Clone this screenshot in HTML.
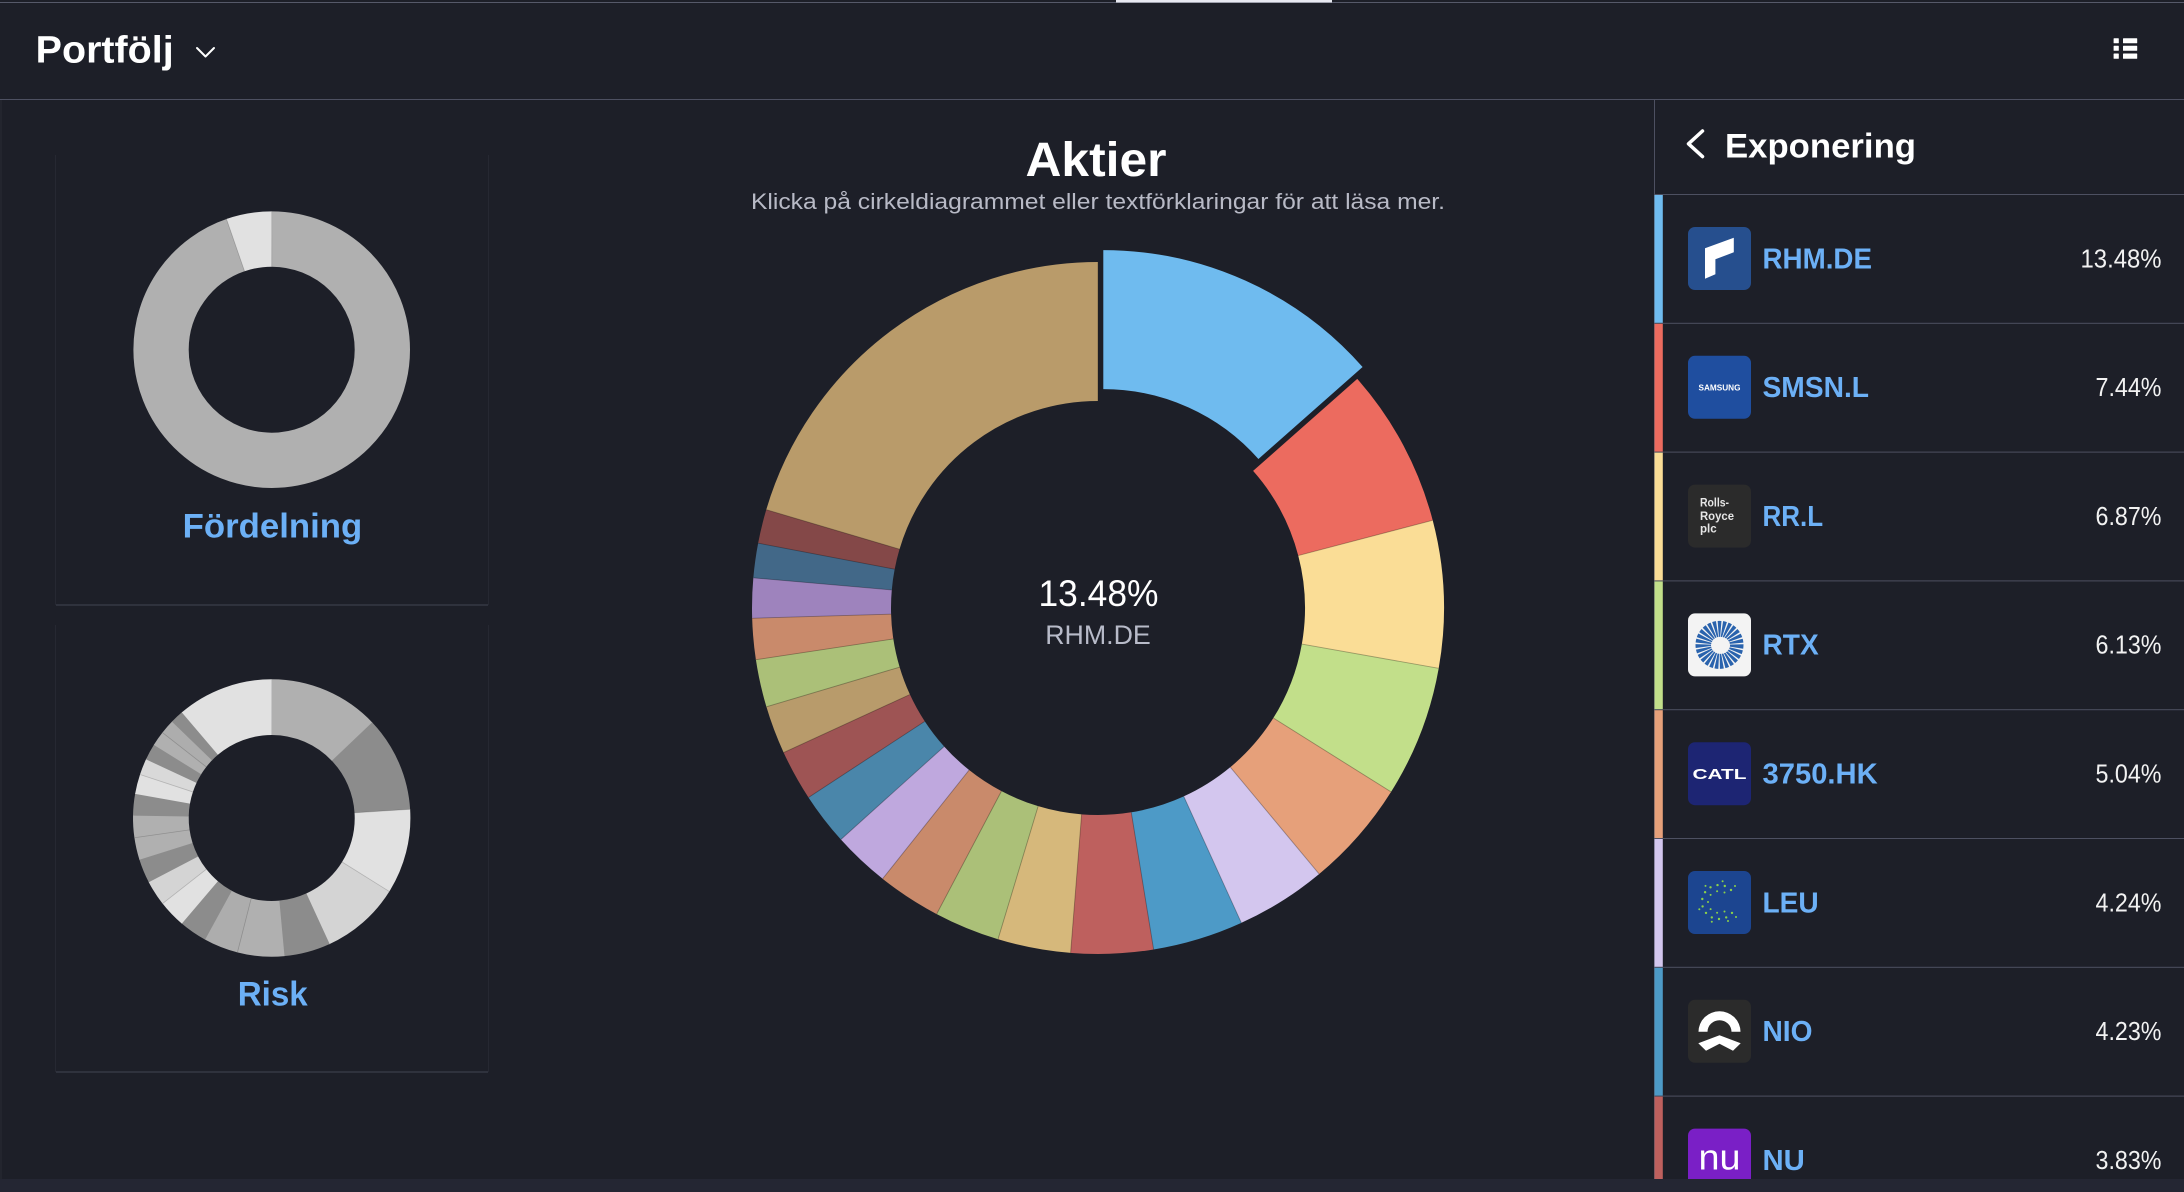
<!DOCTYPE html>
<html>
<head>
<meta charset="utf-8">
<style>
html,body{margin:0;padding:0;background:#1d1f28;overflow:hidden;}
svg{display:block;}
text{font-family:"Liberation Sans","DejaVu Sans",sans-serif;}
</style>
</head>
<body>
<svg width="2184" height="1192" viewBox="0 0 2184 1192" xmlns="http://www.w3.org/2000/svg">
<rect width="2184" height="1192" fill="#1d1f28"/>
<!-- top lines -->
<rect x="0" y="2" width="2184" height="1" fill="#565969"/>
<rect x="1116" y="0" width="216" height="2.5" fill="#e8e9f1"/>
<rect x="0" y="99" width="2184" height="1" fill="#4d5061"/>
<rect x="0" y="100" width="2" height="1079" fill="#23252e"/>

<!-- header -->
<text x="35.7" y="62.7" font-size="38" font-weight="bold" fill="#ffffff" textLength="138" lengthAdjust="spacingAndGlyphs">Portfölj</text>
<polyline points="197,48 205.5,56.5 214,48" fill="none" stroke="#ffffff" stroke-width="2" stroke-linecap="round" stroke-linejoin="round"/>
<!-- list icon -->
<g fill="#ffffff">
<rect x="2113.6" y="38.3" width="5.2" height="5" rx="0.6"/>
<rect x="2123" y="38.3" width="14.2" height="5" rx="0.6"/>
<rect x="2113.6" y="45.8" width="5.2" height="5" rx="0.6"/>
<rect x="2123" y="45.8" width="14.2" height="5" rx="0.6"/>
<rect x="2113.6" y="53.5" width="5.2" height="5.3" rx="0.6"/>
<rect x="2123" y="53.5" width="14.2" height="5.3" rx="0.6"/>
</g>

<!-- left cards -->
<rect x="55" y="155" width="1" height="450" fill="#262832"/>
<rect x="488" y="155" width="1" height="450" fill="#262832"/>
<rect x="56" y="604" width="432" height="2" fill="#2f323d"/>
<rect x="55" y="625" width="1" height="447" fill="#262832"/>
<rect x="488" y="625" width="1" height="447" fill="#262832"/>
<rect x="56" y="1071" width="432" height="2" fill="#2f323d"/>

<!-- Fördelning donut -->
<g fill="none" stroke-width="55.3">
<circle cx="271.7" cy="349.7" r="110.65" stroke="#b0b0b0" stroke-dasharray="659 2000" transform="rotate(-90 271.7 349.7)"/>
<circle cx="271.7" cy="349.7" r="110.65" stroke="#e1e1e1" stroke-dasharray="37.2 2000" transform="rotate(250.9 271.7 349.7)"/>
</g>
<g stroke="rgba(0,0,0,0.2)" stroke-width="0.8">
<line x1="271.7" y1="266.7" x2="271.7" y2="211.4"/>
<line x1="271.7" y1="266.7" x2="271.7" y2="211.4" transform="rotate(340.9 271.7 349.7)"/>
</g>
<text x="272.5" y="537.7" font-size="34" font-weight="bold" fill="#6cb0f6" text-anchor="middle" textLength="179.6" lengthAdjust="spacingAndGlyphs">Fördelning</text>

<!-- Risk donut -->
<g fill="none" stroke-width="55.7">
<circle cx="271.7" cy="818" r="110.85" stroke="#b0b0b0" stroke-dasharray="90.4 2000" transform="rotate(-90 271.7 818)"/>
<circle cx="271.7" cy="818" r="110.85" stroke="#8c8c8c" stroke-dasharray="78 2000" transform="rotate(-43.6 271.7 818)"/>
<circle cx="271.7" cy="818" r="110.85" stroke="#e1e1e1" stroke-dasharray="69.5 2000" transform="rotate(-3.6 271.7 818)"/>
<circle cx="271.7" cy="818" r="110.85" stroke="#d4d4d4" stroke-dasharray="65 2000" transform="rotate(32 271.7 818)"/>
<circle cx="271.7" cy="818" r="110.85" stroke="#8c8c8c" stroke-dasharray="38.1 2000" transform="rotate(65.3 271.7 818)"/>
<circle cx="271.7" cy="818" r="110.85" stroke="#b0b0b0" stroke-dasharray="38.5 2000" transform="rotate(84.7 271.7 818)"/>
<circle cx="271.7" cy="818" r="110.85" stroke="#adadad" stroke-dasharray="28.5 2000" transform="rotate(104.3 271.7 818)"/>
<circle cx="271.7" cy="818" r="110.85" stroke="#8c8c8c" stroke-dasharray="23.2 2000" transform="rotate(118.7 271.7 818)"/>
<circle cx="271.7" cy="818" r="110.85" stroke="#e1e1e1" stroke-dasharray="22.8 2000" transform="rotate(130.4 271.7 818)"/>
<circle cx="271.7" cy="818" r="110.85" stroke="#d4d4d4" stroke-dasharray="20.9 2000" transform="rotate(141.9 271.7 818)"/>
<circle cx="271.7" cy="818" r="110.85" stroke="#8c8c8c" stroke-dasharray="20.1 2000" transform="rotate(152.4 271.7 818)"/>
<circle cx="271.7" cy="818" r="110.85" stroke="#b0b0b0" stroke-dasharray="18.6 2000" transform="rotate(162.5 271.7 818)"/>
<circle cx="271.7" cy="818" r="110.85" stroke="#b0b0b0" stroke-dasharray="18.4 2000" transform="rotate(171.8 271.7 818)"/>
<circle cx="271.7" cy="818" r="110.85" stroke="#8c8c8c" stroke-dasharray="18 2000" transform="rotate(181 271.7 818)"/>
<circle cx="271.7" cy="818" r="110.85" stroke="#e1e1e1" stroke-dasharray="16.6 2000" transform="rotate(190 271.7 818)"/>
<circle cx="271.7" cy="818" r="110.85" stroke="#d9d9d9" stroke-dasharray="13.5 2000" transform="rotate(198.3 271.7 818)"/>
<circle cx="271.7" cy="818" r="110.85" stroke="#8c8c8c" stroke-dasharray="13.7 2000" transform="rotate(205 271.7 818)"/>
<circle cx="271.7" cy="818" r="110.85" stroke="#b0b0b0" stroke-dasharray="12.5 2000" transform="rotate(211.8 271.7 818)"/>
<circle cx="271.7" cy="818" r="110.85" stroke="#adadad" stroke-dasharray="12.2 2000" transform="rotate(218 271.7 818)"/>
<circle cx="271.7" cy="818" r="110.85" stroke="#8c8c8c" stroke-dasharray="11.4 2000" transform="rotate(224 271.7 818)"/>
<circle cx="271.7" cy="818" r="110.85" stroke="#e1e1e1" stroke-dasharray="78.2 2000" transform="rotate(229.6 271.7 818)"/>
</g>
<g stroke="rgba(0,0,0,0.18)" stroke-width="0.8">
<line x1="271.7" y1="735" x2="271.7" y2="679.3" transform="rotate(86.4 271.7 818)"/>
<line x1="271.7" y1="735" x2="271.7" y2="679.3" transform="rotate(122 271.7 818)"/>
<line x1="271.7" y1="735" x2="271.7" y2="679.3" transform="rotate(194.3 271.7 818)"/>
<line x1="271.7" y1="735" x2="271.7" y2="679.3" transform="rotate(261.8 271.7 818)"/>
<line x1="271.7" y1="735" x2="271.7" y2="679.3" transform="rotate(288.3 271.7 818)"/>
<line x1="271.7" y1="735" x2="271.7" y2="679.3" transform="rotate(308 271.7 818)"/>
<line x1="271.7" y1="735" x2="271.7" y2="679.3" transform="rotate(231.9 271.7 818)"/>
</g>
<text x="272.7" y="1005.7" font-size="34" font-weight="bold" fill="#6cb0f6" text-anchor="middle" textLength="70" lengthAdjust="spacingAndGlyphs">Risk</text>

<!-- Center title -->
<text x="1096" y="176" font-size="48" font-weight="bold" fill="#ffffff" text-anchor="middle" textLength="141" lengthAdjust="spacingAndGlyphs">Aktier</text>
<text x="751" y="209" font-size="22" fill="#b8bac6" textLength="694" lengthAdjust="spacingAndGlyphs">Klicka på cirkeldiagrammet eller textförklaringar för att läsa mer.</text>

<!-- Main donut -->
<g fill="none" stroke-width="139">
<g transform="translate(5.3,-11.9)">
<circle cx="1098" cy="608" r="276.5" stroke="#6fbbef" stroke-dasharray="234.2 3000" transform="rotate(-90 1098 608)"/>
</g>
<circle cx="1098" cy="608" r="276.5" stroke="#ec6b5f" stroke-dasharray="129.8 3000" transform="rotate(-41.47 1098 608)"/>
<circle cx="1098" cy="608" r="276.5" stroke="#fadd96" stroke-dasharray="119.9 3000" transform="rotate(-14.69 1098 608)"/>
<circle cx="1098" cy="608" r="276.5" stroke="#c2df8a" stroke-dasharray="107.1 3000" transform="rotate(10.04 1098 608)"/>
<circle cx="1098" cy="608" r="276.5" stroke="#e6a07a" stroke-dasharray="88.2 3000" transform="rotate(32.11 1098 608)"/>
<circle cx="1098" cy="608" r="276.5" stroke="#d3c6ee" stroke-dasharray="74.2 3000" transform="rotate(50.26 1098 608)"/>
<circle cx="1098" cy="608" r="276.5" stroke="#4d9ac7" stroke-dasharray="74.1 3000" transform="rotate(65.52 1098 608)"/>
<circle cx="1098" cy="608" r="276.5" stroke="#be605e" stroke-dasharray="67.1 3000" transform="rotate(80.75 1098 608)"/>
<circle cx="1098" cy="608" r="276.5" stroke="#d6b87b" stroke-dasharray="59.8 3000" transform="rotate(94.54 1098 608)"/>
<circle cx="1098" cy="608" r="276.5" stroke="#abc078" stroke-dasharray="53.7 3000" transform="rotate(106.8 1098 608)"/>
<circle cx="1098" cy="608" r="276.5" stroke="#c98a6b" stroke-dasharray="52.2 3000" transform="rotate(117.8 1098 608)"/>
<circle cx="1098" cy="608" r="276.5" stroke="#bfa8de" stroke-dasharray="46.4 3000" transform="rotate(128.5 1098 608)"/>
<circle cx="1098" cy="608" r="276.5" stroke="#4a86aa" stroke-dasharray="43.1 3000" transform="rotate(138 1098 608)"/>
<circle cx="1098" cy="608" r="276.5" stroke="#9e5454" stroke-dasharray="41.6 3000" transform="rotate(146.8 1098 608)"/>
<circle cx="1098" cy="608" r="276.5" stroke="#b89b6b" stroke-dasharray="39.7 3000" transform="rotate(155.3 1098 608)"/>
<circle cx="1098" cy="608" r="276.5" stroke="#abc078" stroke-dasharray="39.2 3000" transform="rotate(163.4 1098 608)"/>
<circle cx="1098" cy="608" r="276.5" stroke="#c98a6b" stroke-dasharray="33.9 3000" transform="rotate(171.4 1098 608)"/>
<circle cx="1098" cy="608" r="276.5" stroke="#9e83bd" stroke-dasharray="32.9 3000" transform="rotate(178.3 1098 608)"/>
<circle cx="1098" cy="608" r="276.5" stroke="#426888" stroke-dasharray="28.6 3000" transform="rotate(185 1098 608)"/>
<circle cx="1098" cy="608" r="276.5" stroke="#844848" stroke-dasharray="28.1 3000" transform="rotate(190.8 1098 608)"/>
<circle cx="1098" cy="608" r="276.5" stroke="#b99b6a" stroke-dasharray="354.7 3000" transform="rotate(196.5 1098 608)"/>
</g>
<g stroke="rgba(0,0,0,0.3)" stroke-width="0.9">
<line x1="1098" y1="401" x2="1098" y2="262" transform="rotate(75.31 1098 608)"/>
<line x1="1098" y1="401" x2="1098" y2="262" transform="rotate(100.04 1098 608)"/>
<line x1="1098" y1="401" x2="1098" y2="262" transform="rotate(122.11 1098 608)"/>
<line x1="1098" y1="401" x2="1098" y2="262" transform="rotate(140.26 1098 608)"/>
<line x1="1098" y1="401" x2="1098" y2="262" transform="rotate(155.52 1098 608)"/>
<line x1="1098" y1="401" x2="1098" y2="262" transform="rotate(170.75 1098 608)"/>
<line x1="1098" y1="401" x2="1098" y2="262" transform="rotate(184.54 1098 608)"/>
<line x1="1098" y1="401" x2="1098" y2="262" transform="rotate(196.8 1098 608)"/>
<line x1="1098" y1="401" x2="1098" y2="262" transform="rotate(207.8 1098 608)"/>
<line x1="1098" y1="401" x2="1098" y2="262" transform="rotate(218.5 1098 608)"/>
<line x1="1098" y1="401" x2="1098" y2="262" transform="rotate(228 1098 608)"/>
<line x1="1098" y1="401" x2="1098" y2="262" transform="rotate(236.8 1098 608)"/>
<line x1="1098" y1="401" x2="1098" y2="262" transform="rotate(245.3 1098 608)"/>
<line x1="1098" y1="401" x2="1098" y2="262" transform="rotate(253.4 1098 608)"/>
<line x1="1098" y1="401" x2="1098" y2="262" transform="rotate(261.4 1098 608)"/>
<line x1="1098" y1="401" x2="1098" y2="262" transform="rotate(268.3 1098 608)"/>
<line x1="1098" y1="401" x2="1098" y2="262" transform="rotate(275 1098 608)"/>
<line x1="1098" y1="401" x2="1098" y2="262" transform="rotate(280.8 1098 608)"/>
<line x1="1098" y1="401" x2="1098" y2="262" transform="rotate(286.5 1098 608)"/>
<line x1="1098" y1="401" x2="1098" y2="262"/>
</g>
<text x="1098.5" y="606" font-size="37" fill="#ffffff" text-anchor="middle" textLength="120" lengthAdjust="spacingAndGlyphs">13.48%</text>
<text x="1098" y="644" font-size="27" fill="#b8bbc9" text-anchor="middle" textLength="105.6" lengthAdjust="spacingAndGlyphs">RHM.DE</text>

<!-- Right panel -->
<rect x="1654" y="99" width="1" height="1080" fill="#4d5061"/>
<polyline points="1702.5,131 1688.5,143.8 1702.5,156.6" fill="none" stroke="#ffffff" stroke-width="3.5" stroke-linecap="round" stroke-linejoin="round"/>
<text x="1725" y="157.3" font-size="34" font-weight="bold" fill="#ffffff" textLength="191" lengthAdjust="spacingAndGlyphs">Exponering</text>
<g fill="#4d5061">
<rect x="1654" y="194" width="530" height="1"/>
<rect x="1654" y="322.8" width="530" height="1"/>
<rect x="1654" y="451.6" width="530" height="1"/>
<rect x="1654" y="580.4" width="530" height="1"/>
<rect x="1654" y="709.2" width="530" height="1"/>
<rect x="1654" y="838" width="530" height="1"/>
<rect x="1654" y="966.8" width="530" height="1"/>
<rect x="1654" y="1095.6" width="530" height="1"/>
</g>
<!-- color bars -->
<rect x="1654.5" y="195" width="8.3" height="127.8" fill="#6fbbef"/>
<rect x="1654.5" y="323.8" width="8.3" height="127.8" fill="#ec6b5f"/>
<rect x="1654.5" y="452.6" width="8.3" height="127.8" fill="#fadd96"/>
<rect x="1654.5" y="581.4" width="8.3" height="127.8" fill="#c2df8a"/>
<rect x="1654.5" y="710.2" width="8.3" height="127.8" fill="#e6a07a"/>
<rect x="1654.5" y="839" width="8.3" height="127.8" fill="#d3c6ee"/>
<rect x="1654.5" y="967.8" width="8.3" height="127.8" fill="#4d9ac7"/>
<rect x="1654.5" y="1096.6" width="8.3" height="90" fill="#be605e"/>

<!-- tickers -->
<g font-size="29" font-weight="bold" fill="#6cb0f6">
<text x="1762.5" y="268.3" textLength="109.5" lengthAdjust="spacingAndGlyphs">RHM.DE</text>
<text x="1762.5" y="397.1" textLength="106.5" lengthAdjust="spacingAndGlyphs">SMSN.L</text>
<text x="1762.5" y="526.1" textLength="60.6" lengthAdjust="spacingAndGlyphs">RR.L</text>
<text x="1762.5" y="654.7" textLength="56.2" lengthAdjust="spacingAndGlyphs">RTX</text>
<text x="1762.5" y="783.5" textLength="115.2" lengthAdjust="spacingAndGlyphs">3750.HK</text>
<text x="1762.5" y="912.3" textLength="56.2" lengthAdjust="spacingAndGlyphs">LEU</text>
<text x="1762.5" y="1041.1" textLength="50" lengthAdjust="spacingAndGlyphs">NIO</text>
<text x="1762.5" y="1169.9" textLength="42.3" lengthAdjust="spacingAndGlyphs">NU</text>
</g>
<!-- percents -->
<g font-size="26" fill="#f2f2f2" text-anchor="end">
<text x="2161.5" y="267.3" textLength="81" lengthAdjust="spacingAndGlyphs">13.48%</text>
<text x="2161.5" y="396.1" textLength="66" lengthAdjust="spacingAndGlyphs">7.44%</text>
<text x="2161.5" y="524.9" textLength="66" lengthAdjust="spacingAndGlyphs">6.87%</text>
<text x="2161.5" y="653.7" textLength="66" lengthAdjust="spacingAndGlyphs">6.13%</text>
<text x="2161.5" y="782.5" textLength="66" lengthAdjust="spacingAndGlyphs">5.04%</text>
<text x="2161.5" y="911.3" textLength="66" lengthAdjust="spacingAndGlyphs">4.24%</text>
<text x="2161.5" y="1040.1" textLength="66" lengthAdjust="spacingAndGlyphs">4.23%</text>
<text x="2161.5" y="1168.9" textLength="66" lengthAdjust="spacingAndGlyphs">3.83%</text>
</g>

<!-- logos -->
<!-- RHM -->
<g transform="translate(1688,227)">
<rect width="63" height="63" rx="7" fill="#264f8e"/>
<polygon points="17,21.3 45.8,10.7 45.8,25.3 27.4,32.3 27.4,47.3 17,51.7" fill="#ffffff"/>
</g>
<!-- Samsung -->
<g transform="translate(1688,355.8)">
<rect width="63" height="63" rx="7" fill="#1f4e9f"/>
<text x="31.5" y="34.5" font-size="8" font-weight="bold" fill="#ffffff" text-anchor="middle" textLength="42" lengthAdjust="spacingAndGlyphs">SAMSUNG</text>
</g>
<!-- Rolls-Royce -->
<g transform="translate(1688,484.6)">
<rect width="63" height="63" rx="7" fill="#2b2b2b"/>
<g font-size="11.5" font-weight="bold" fill="#e6e6e6">
<text x="12" y="22.1" textLength="29" lengthAdjust="spacingAndGlyphs">Rolls-</text>
<text x="12" y="35.4" textLength="34" lengthAdjust="spacingAndGlyphs">Royce</text>
<text x="12" y="48.1" textLength="16.7" lengthAdjust="spacingAndGlyphs">plc</text>
</g>
</g>
<!-- RTX -->
<g transform="translate(1688,613.4)">
<rect width="63" height="63" rx="7" fill="#f3f3f3"/>
<circle cx="31.5" cy="31.5" r="16" fill="none" stroke="#2a63ad" stroke-width="16" stroke-dasharray="2.6 1.1"/>
<ellipse cx="32.5" cy="32" rx="9.5" ry="8.5" fill="#f3f3f3"/>
</g>
<!-- CATL -->
<g transform="translate(1688,742.2)">
<rect width="63" height="63" rx="7" fill="#1d2573"/>
<text x="31.5" y="37" font-size="15" font-weight="bold" fill="#ffffff" text-anchor="middle" textLength="54" lengthAdjust="spacingAndGlyphs">CATL</text>
</g>
<!-- LEU -->
<g transform="translate(1688,871)">
<rect width="63" height="63" rx="7" fill="#1c4590"/>
<g fill="#8bd14a">
<circle cx="43" cy="19" r="1.2"/><circle cx="36.8" cy="15" r="1.2"/><circle cx="29.5" cy="14.1" r="1.2"/>
<circle cx="22.5" cy="16.3" r="1.2"/><circle cx="17.1" cy="21.2" r="1.2"/><circle cx="14.3" cy="28" r="1.2"/>
<circle cx="14.6" cy="35.4" r="1.2"/><circle cx="18" cy="41.9" r="1.2"/><circle cx="23.8" cy="46.4" r="1.2"/>
<circle cx="31" cy="48" r="1.2"/><circle cx="38.2" cy="46.4" r="1.2"/><circle cx="44" cy="41.9" r="1.2"/>
<circle cx="36.5" cy="21.5" r="1"/><circle cx="29.1" cy="20.2" r="1"/><circle cx="22.6" cy="23.9" r="1"/>
<circle cx="20" cy="31" r="1"/><circle cx="22.6" cy="38.1" r="1"/><circle cx="29.1" cy="41.8" r="1"/>
<circle cx="36.5" cy="40.5" r="1"/><circle cx="34.6" cy="10.3" r="1"/><circle cx="17.5" cy="14.9" r="1"/>
<circle cx="11.3" cy="38.2" r="1"/><circle cx="23.8" cy="50.7" r="1"/><circle cx="40" cy="50" r="1"/>
<circle cx="48" cy="46" r="1"/><circle cx="47" cy="15" r="1"/>
</g>
</g>
<!-- NIO -->
<g transform="translate(1688,999.8)">
<rect width="63" height="63" rx="7" fill="#2b2b2b"/>
<path d="M10.5,32 A21,20.5 0 0 1 52.5,32 L43.5,32 A12,11.5 0 0 0 19.5,32 Z" fill="#ffffff"/>
<polygon points="31.5,35.5 52.7,43.5 45,51 31.5,44 18,51 10.3,43.5" fill="#ffffff"/>
</g>
<!-- NU -->
<g transform="translate(1688,1128.6)">
<rect width="63" height="63" rx="7" fill="#7a1fc6"/>
<text x="31.5" y="41" font-size="36" fill="#ffffff" text-anchor="middle" textLength="42" lengthAdjust="spacingAndGlyphs">nu</text>
</g>

<!-- bottom band -->
<rect x="0" y="1179" width="2184" height="13" fill="#242633"/>
</svg>
</body>
</html>
